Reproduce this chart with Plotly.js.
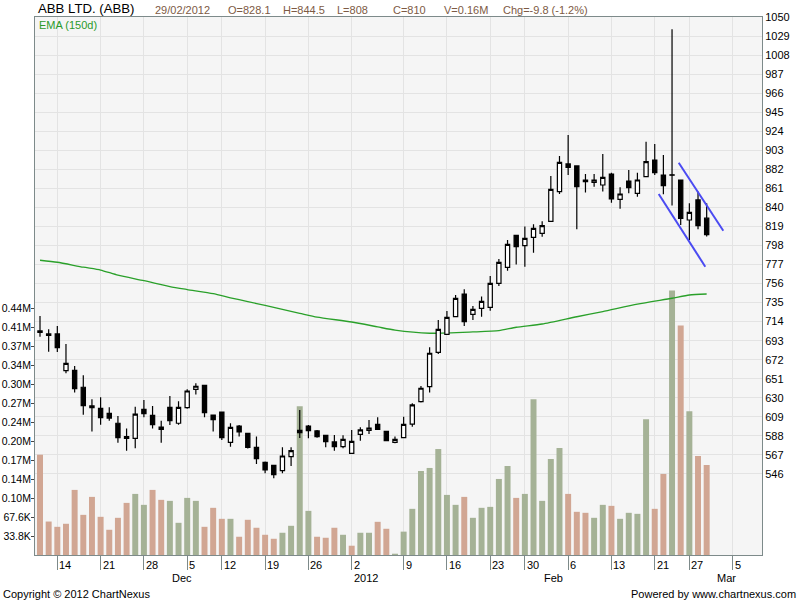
<!DOCTYPE html>
<html><head><meta charset="utf-8">
<script src="https://cdn.plot.ly/plotly-3.0.1.min.js"></script>
<style>html,body{margin:0;padding:0;background:#fff}#chart{width:800px;height:600px}</style>
</head><body><div id="chart"></div>
<script>
// ---- data (trading-day index 0 = first candle, 77 = 29/02/2012) ----
const opens = [703.7,700.4,700.4,660.0,660.3,641.6,621.0,618.4,612.9,601.9, 587.2,585.3,617.3,610.7,595.2,619.5,601.9,619.1,639.3,643.7, 611.0,614.3,580.9,598.9,590.8,575.4,558.8,555.5,549.6,565.1, 594.1,598.9,593.4,588.6,581.3,576.1,568.8,589.7,594.1,600.7, 593.0,580.9,586.0,601.0,625.8,642.3,680.2,700.0,719.5,744.5, 722.1,728.7,729.8,756.3,773.9,809.2,797.8,807.0,811.4,824.6, 857.4,887.9,885.7,870.2,867.6,864.7,876.8,848.9,869.1,855.5, 873.9,892.3,875.7,876.0,870.2,826.1,848.2,828.1];
const highs = [720.2,705.5,709.2,689.3,665.0,654.8,628.3,630.5,619.5,610.0, 596.0,620.2,627.6,621.0,604.8,632.0,626.1,639.3,646.0,643.7, 611.0,614.3,601.9,600.0,591.5,587.2,559.6,555.9,575.4,575.4, 616.6,600.0,594.5,589.0,589.0,588.6,594.5,597.4,605.5,608.5, 593.0,587.2,609.2,623.9,643.0,685.7,715.8,725.8,743.4,749.6, 731.3,741.6,764.3,783.1,804.0,809.2,818.8,821.3,824.6,874.6, 896.7,919.9,885.7,876.8,876.8,898.9,878.3,862.1,881.3,878.3, 912.5,909.9,897.8,1036.4,870.2,844.5,857.4,844.5];
const lows = [697.4,680.9,680.5,657.0,635.7,611.4,592.7,600.4,604.8,580.5, 571.7,574.3,608.5,596.0,580.5,600.0,600.4,618.0,633.5,608.5, 592.7,583.5,576.1,587.2,574.0,557.0,546.7,541.2,546.7,554.8, 585.7,585.3,586.0,575.4,571.7,574.3,568.8,582.7,590.0,594.5, 582.7,579.8,586.0,598.0,624.7,635.7,678.3,699.3,719.5,709.2, 715.8,719.5,726.1,753.3,770.2,776.9,774.6,790.1,807.7,824.6, 854.8,875.7,815.8,856.3,862.9,857.4,845.2,838.6,855.5,851.8, 873.9,875.7,854.4,842.0,820.6,804.0,815.8,808.0];
const closes = [702.2,698.9,685.3,668.0,640.1,621.3,619.0,608.1,607.6,586.1, 585.3,612.0,612.6,600.4,597.6,604.8,619.5,637.5,642.7,613.6, 605.9,586.1,597.4,592.3,575.4,562.9,550.4,545.2,565.8,571.7, 591.6,593.8,587.2,581.6,576.1,584.2,582.0,594.5,596.7,595.2, 582.7,584.2,600.7,622.1,640.5,679.1,705.5,718.8,739.7,714.0, 727.6,736.4,756.3,779.4,799.3,796.7,805.9,816.9,819.9,859.9, 889.7,884.2,862.9,868.4,870.2,873.2,849.3,854.8,861.8,870.2, 890.4,878.3,864.0,875.5,827.9,834.6,819.8,810.0];
// volume in thousands
const volumes = [178.6,59.6,50.2,55.6,115.9,71.5,103.5,68.0,44.9,66.2, 92.8,108.8,89.3,115.9,98.2,96.4,57.3,101.7,96.4,50.2, 84.0,64.4,64.4,32.5,62.7,48.5,36.0,28.9,39.6,52.0, 265.0,78.6,32.5,30.7,48.5,36.0,16.5,39.6,39.6,59.1, 46.7,2.3,41.6,82.2,149.6,155.0,188.7,107.0,89.3,103.5, 66.2,84.0,85.7,135.4,158.5,101.7,108.8,277.4,96.4,170.9, 190.5,108.8,76.9,75.1,66.2,89.3,87.5,64.4,75.1,73.3, 241.9,82.2,144.3,470.9,408.8,256.1,176.3,160.3];
// 1 = up day for volume, 0 = down day
const volUp = [0,0,0,0,0,0,0,0,0,0, 0,1,1,0,0,1,1,1,1,0, 0,0,1,0,0,0,0,0,1,1, 1,1,0,0,0,1,0,1,1,0, 0,1,1,1,1,1,1,1,1,0, 1,1,1,1,1,0,1,1,1,1, 1,0,0,0,1,1,0,1,1,1, 1,0,0,1,0,1,0,0];
const emaIdx = [0,2,5,7,9,12,15,17,20,22,24,26,30,32,36,39,41,45,50,53,55,58,62,65,69,73,75,77];
const emaVals = [781.7,779.5,774.0,770.9,765.2,759.2,752.7,749.4,744.8,740.3,736.1,731.8,723.2,719.0,713.6,708.2,704.6,701.2,702.6,704.0,707.8,711.4,719.4,725.0,733.3,739.8,743.4,744.5];
const weekTickIdx = [2,7,12,17,21,26,31,36,42,47,52,56,61,66,71,75,80];
const weekTickText = ['14','21','28','5','12','19','26','2','9','16','23','30','6','13','21','27','5'];
const monthIdx = [15,36,58,78];
const monthText = ['Dec','2012','Feb','Mar'];
const priceTicks = [1050,1029,1008,987,966,945,924,903,882,861,840,819,798,777,756,735,714,693,672,651,630,609,588,567,546];
const volTicks = [33.8,67.6,101.4,135.2,169.0,202.8,236.6,270.4,304.2,338.0,371.8,405.6,439.4];
const upperTrendX = [73.77,78.92], upperTrendY = [889.3,814.3];
const lowerTrendX = [71.46,76.84], lowerTrendY = [854.8,774.6];
const headerDate = '29/02/2012';

// ---- chart ----
const idx = closes.map((_, i) => i);
const n = closes.length;
const volTickText = volTicks.map(v => v < 100 ? v.toFixed(1) + 'K' : (v / 1000).toFixed(2) + 'M');
const volColors = volUp.map(u => u ? '#a5b296' : '#d1a693');

const FONT = 'Liberation Sans, Arial, sans-serif';
const L = 35, R = 38, T = 17, B = 45;
const xRange = [-0.578, 83.39];
const priceRange = [456.6, 1050];
const volRange = [0, 958];
const axisCol = '#7d8a8a';
const gridCol = '#e3e3e3';

const traces = [
  {type: 'bar', x: idx, y: volumes, xaxis: 'x', yaxis: 'y', width: 0.69,
   marker: {color: volColors, line: {width: 0}}, hoverinfo: 'skip'},
  {type: 'scatter', mode: 'lines', x: emaIdx, y: emaVals, xaxis: 'x', yaxis: 'y2',
   line: {color: '#2aa02a', width: 1.3, shape: 'spline', smoothing: 0.6}, hoverinfo: 'skip'},
  {type: 'candlestick', x: idx, open: opens, high: highs, low: lows, close: closes,
   xaxis: 'x', yaxis: 'y3', whiskerwidth: 0,
   increasing: {line: {color: '#000', width: 1.2}, fillcolor: '#ffffff'},
   decreasing: {line: {color: '#000', width: 1.2}, fillcolor: '#000000'},
   hoverinfo: 'skip'},
  {type: 'scatter', mode: 'lines', x: upperTrendX, y: upperTrendY, xaxis: 'x', yaxis: 'y3',
   line: {color: '#4b4bf2', width: 2}, hoverinfo: 'skip'},
  {type: 'scatter', mode: 'lines', x: lowerTrendX, y: lowerTrendY, xaxis: 'x', yaxis: 'y3',
   line: {color: '#4b4bf2', width: 2}, hoverinfo: 'skip'}
];

const ann = [];
function hdr(text, px, py, size, color, anchor) {
  ann.push({xref: 'paper', yref: 'paper', x: anchor === 'right' ? 1 : 0, y: 1,
    xshift: anchor === 'right' ? px - (800 - R) : px - L, yshift: T - py,
    xanchor: anchor || 'left', yanchor: 'middle', showarrow: false, text: text,
    font: {family: FONT, size: size, color: color}});
}
const last = n - 1;
const chg = closes[last] - closes[last - 1];
const pct = chg / closes[last - 1] * 100;
const brown = '#7d5a44';
hdr('ABB LTD. (ABB)', 36, 8.5, 13.2, '#000');
hdr(headerDate, 153, 9.5, 11, brown);
hdr('O=' + opens[last], 226, 9.5, 11, brown);
hdr('H=' + highs[last], 281, 9.5, 11, brown);
hdr('L=' + lows[last], 335, 9.5, 11, brown);
hdr('C=' + closes[last], 391, 9.5, 11, brown);
hdr('V=' + (volumes[last] / 1000).toFixed(2) + 'M', 442, 9.5, 11, brown);
hdr('Chg=' + chg.toFixed(1) + ' (' + pct.toFixed(1) + '%)', 501, 9.5, 11, brown);
hdr('EMA (150d)', 37, 25, 11, '#2a9a2a');
hdr('Copyright © 2012 ChartNexus', 1, 593.5, 11, '#000');
hdr('Powered by www.chartnexus.com', 798, 593.5, 11, '#000', 'right');

weekTickIdx.forEach((v, k) => ann.push({xref: 'x', yref: 'paper', x: v, y: 0, xanchor: 'left',
  yanchor: 'middle', xshift: 0, yshift: -10, showarrow: false, text: weekTickText[k],
  font: {family: FONT, size: 11, color: '#000'}}));
monthIdx.forEach((v, k) => ann.push({xref: 'x', yref: 'paper', x: v, y: 0, xanchor: 'left',
  yanchor: 'middle', xshift: 0, yshift: -22.5, showarrow: false, text: monthText[k],
  font: {family: FONT, size: 11, color: '#000'}}));

const layout = {
  width: 800, height: 600,
  margin: {l: L, r: R, t: T, b: B, pad: 0},
  paper_bgcolor: '#ffffff', plot_bgcolor: '#f5f5f5',
  showlegend: false, dragmode: false,
  font: {family: FONT, size: 11, color: '#000'},
  xaxis: {range: xRange, tickvals: weekTickIdx, showticklabels: false,
    ticks: 'outside', ticklen: 14, tickcolor: axisCol, tickwidth: 1,
    showgrid: true, gridcolor: gridCol, gridwidth: 1, zeroline: false,
    showline: true, linecolor: axisCol, linewidth: 1, mirror: true,
    rangeslider: {visible: false}, fixedrange: true},
  xaxis2: {overlaying: 'x', anchor: 'y', range: xRange, tickvals: monthIdx, showticklabels: false,
    ticks: 'outside', ticklen: 29, tickcolor: axisCol, tickwidth: 1,
    showgrid: false, zeroline: false, showline: false, fixedrange: true},
  yaxis: {range: volRange, side: 'left', tickvals: volTicks, ticktext: volTickText,
    ticks: 'outside', ticklen: 3, tickcolor: '#444', ticklabelstandoff: -2,
    showgrid: false, zeroline: false,
    showline: true, linecolor: axisCol, linewidth: 1, tickfont: {size: 10.5, family: FONT},
    fixedrange: true},
  yaxis2: {overlaying: 'y', range: priceRange, visible: false, fixedrange: true},
  yaxis3: {overlaying: 'y', side: 'right', range: priceRange, tickvals: priceTicks,
    ticks: '', showgrid: true, gridcolor: gridCol, gridwidth: 1, zeroline: false,
    showline: true, linecolor: axisCol, linewidth: 1, tickfont: {size: 11, family: FONT},
    fixedrange: true},
  annotations: ann
};

Plotly.newPlot('chart', traces, layout, {displayModeBar: false, staticPlot: true});
</script>
</body></html>
